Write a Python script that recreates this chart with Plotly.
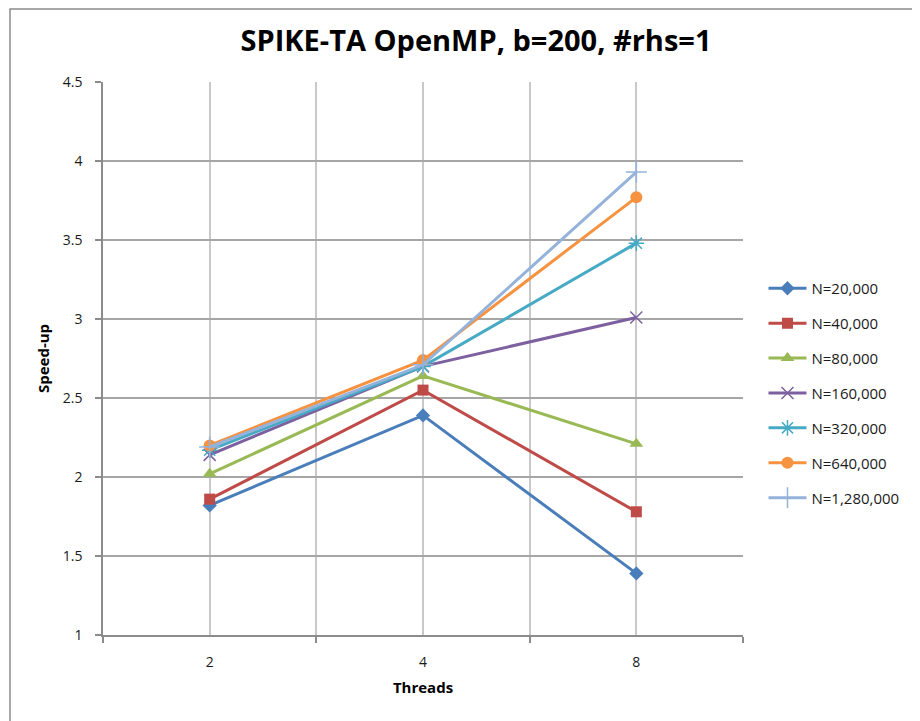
import plotly.graph_objects as go

# threads on the x axis
threads = [2, 4, 8]

series_names = ['N=20,000', 'N=40,000', 'N=80,000', 'N=160,000',
                'N=320,000', 'N=640,000', 'N=1,280,000']

n_20k = [1.82, 2.39, 1.39]
n_40k = [1.86, 2.55, 1.78]
n_80k = [2.02, 2.64, 2.21]
n_160k = [2.14, 2.70, 3.01]
n_320k = [2.17, 2.70, 3.48]
n_640k = [2.20, 2.74, 3.77]
n_1280k = [2.19, 2.71, 3.93]

colors = ['#4A7EBB', '#BE4B48', '#98B954', '#7D60A0', '#46AAC5', '#F69240', '#94B2DA']
symbols = ['diamond', 'square', 'triangle-up', 'x-thin-open', 'asterisk-open',
           'circle', 'cross-thin-open']
sizes = [11, 11, 12, 12, 13, 12, 15]

all_series = [n_20k, n_40k, n_80k, n_160k, n_320k, n_640k, n_1280k]

FONT = 'Open Sans'

fig = go.Figure()

for i, (name, vals) in enumerate(zip(series_names, all_series)):
    open_sym = symbols[i].endswith('-open')
    fig.add_trace(go.Scatter(
        x=threads,
        y=vals,
        name=name,
        legendgroup=name,
        mode='lines+markers',
        line=dict(color=colors[i], width=3),
        marker=dict(
            symbol=symbols[i],
            size=sizes[i],
            color=colors[i],
            line=dict(color=colors[i], width=1.5 if open_sym else 0),
        ),
    ))

# page body adds an 8px offset, so the figure is 912x713
fig.update_layout(
    width=912,
    height=713,
    margin=dict(l=95, r=177, t=74, b=86),
    paper_bgcolor='white',
    plot_bgcolor='white',
    font=dict(family=FONT, size=13, color='#1a1a1a'),
    title=dict(
        text='SPIKE-TA OpenMP, b=200, #rhs=1',
        x=(468 / 912), xanchor='center',
        y=1 - 33 / 713, yanchor='middle',
        font=dict(family=FONT, size=29, color='black', weight='bold'),
    ),
    showlegend=True,
    legend=dict(
        x=1.032, xanchor='left',
        y=0.4376, yanchor='middle',
        tracegroupgap=12.4,
        itemwidth=38,
        font=dict(family=FONT, size=15, color='#1a1a1a'),
        bgcolor='rgba(0,0,0,0)',
    ),
    xaxis=dict(
        type='log',
        range=[0.1505, 1.0536],
        tickvals=threads,
        ticktext=[str(t) for t in threads],
        ticks='',
        showgrid=True,
        gridcolor='#c8c8c8',
        gridwidth=1.5,
        showline=True,
        linecolor='#8c8c8c',
        linewidth=1.5,
        ticklabelstandoff=13,
        tickfont=dict(size=14),
        minor=dict(
            tickvals=[1.41421356, 2.82842712, 5.65685425, 11.3137085],
            ticks='outside',
            ticklen=6,
            tickcolor='#8c8c8c',
            tickwidth=1.5,
            showgrid=True,
            gridcolor='#c8c8c8',
            gridwidth=1.5,
        ),
        title=dict(text='<b>Threads</b>', font=dict(family=FONT, size=15, color='black'),
                   standoff=13),
        zeroline=False,
    ),
    yaxis=dict(
        range=[1, 4.5],
        dtick=0.5,
        showgrid=True,
        gridcolor='#a6a6a6',
        gridwidth=1.5,
        showline=True,
        linecolor='#8c8c8c',
        linewidth=1.5,
        ticks='outside',
        ticklen=6,
        tickcolor='#8c8c8c',
        tickwidth=1.5,
        ticklabelstandoff=10,
        tickfont=dict(size=14),
        title=dict(text='<b>Speed-up</b>', font=dict(family=FONT, size=15, color='black'),
                   standoff=10),
        zeroline=False,
    ),
)

# outer chart border (only the top and left edges are in view)
fig.add_shape(
    type='rect', xref='paper', yref='paper',
    x0=(2 - 95) / 640, x1=1.5,
    y0=-0.5, y1=(553 + 74 - 1) / 553,
    line=dict(color='#8c8c8c', width=1.5),
    fillcolor='rgba(0,0,0,0)',
    layer='below',
)

fig.write_html('out.html')
